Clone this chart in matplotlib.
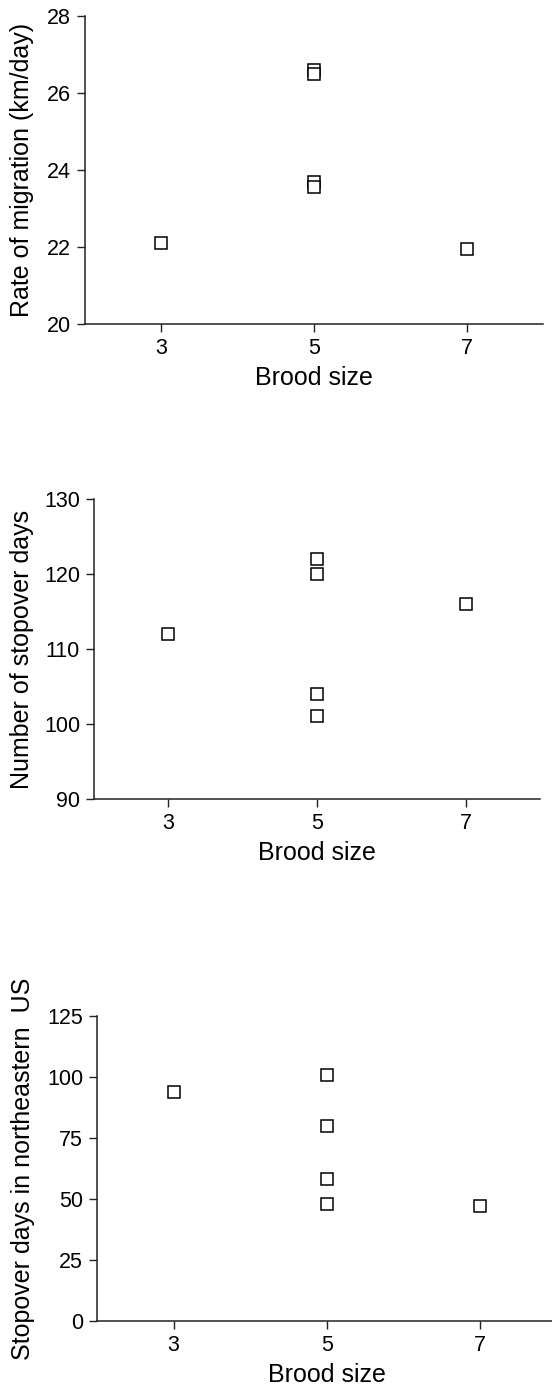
import matplotlib
matplotlib.use('Agg')
import matplotlib.pyplot as plt

plt.rcParams['font.family'] = ['Liberation Sans', 'DejaVu Sans']

# brood size for each bird
brood = [3, 5, 5, 5, 5, 7]

# panel 1: rate of migration (km/day)
rate = [22.1, 26.6, 26.5, 23.7, 23.55, 21.95]
# panel 2: number of stopover days
stop_days = [112, 122, 120, 104, 101, 116]
# panel 3: stopover days in northeastern US
ne_days = [94, 101, 80, 58, 48, 47]

xticks = [3, 5, 7]

W, H = 552, 1393
fig = plt.figure(figsize=(W / 100, H / 100), dpi=100)


def px_axes(left, right, top, bottom):
    return fig.add_axes([left / W, 1 - bottom / H, (right - left) / W, (bottom - top) / H])


panels = [
    (px_axes(85, 543, 16, 324), rate, (20, 28), [20, 22, 24, 26, 28],
     'Rate of migration (km/day)', 34),
    (px_axes(94, 540, 499, 799), stop_days, (90, 130), [90, 100, 110, 120, 130],
     'Number of stopover days', 34),
    (px_axes(97, 557, 1016, 1321), ne_days, (0, 125), [0, 25, 50, 75, 100, 125],
     'Stopover days in northeastern  US', 35),
]

for ax, vals, ylim, yticks, ylabel, lab_x in panels:
    ax.plot(brood, vals, 's', ls='none', markersize=8.8, markerfacecolor='white',
            markeredgecolor='black', markeredgewidth=1.1, clip_on=False)
    ax.set_xlim(2, 8)
    ax.set_ylim(*ylim)
    ax.set_xticks(xticks)
    ax.set_yticks(yticks)
    for s in ['top', 'right']:
        ax.spines[s].set_visible(False)
    for s in ['left', 'bottom']:
        ax.spines[s].set_linewidth(1.1)
        ax.spines[s].set_color('#222222')
    ax.tick_params(direction='out', length=6, width=1.0, color='#222222',
                   labelsize=15.5, pad=4)
    ax.set_xlabel('Brood size', fontsize=18, labelpad=5)
    ax.set_ylabel(ylabel, fontsize=18)
    pos = ax.get_position()
    ax.yaxis.set_label_coords((lab_x / W - pos.x0) / pos.width, 0.5)

fig.savefig('out.png', dpi=100)
